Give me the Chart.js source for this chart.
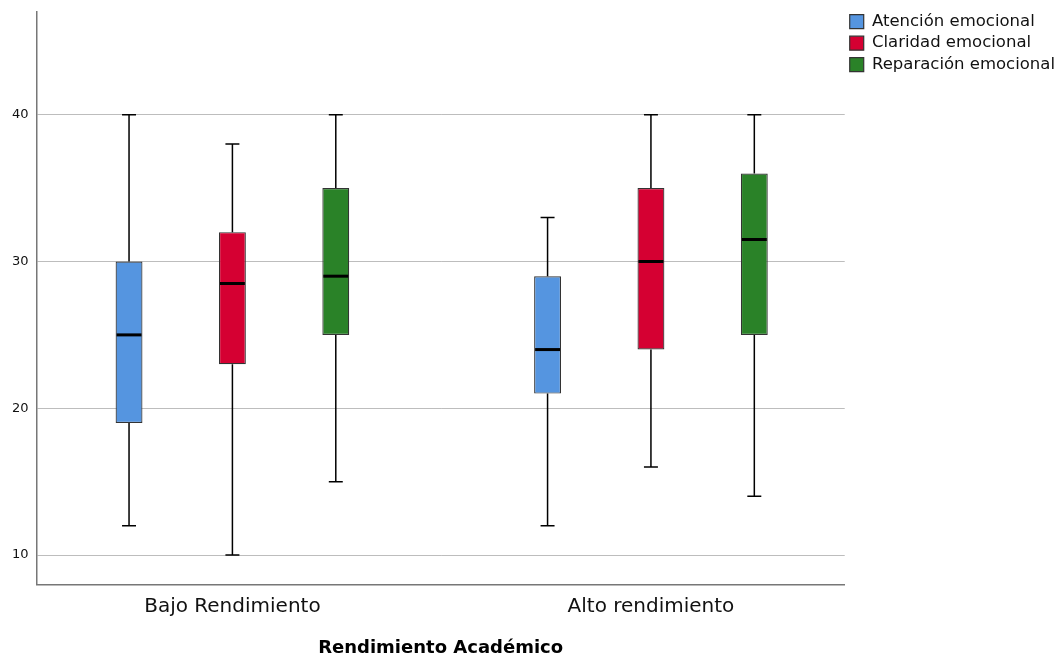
<!DOCTYPE html>
<html>
<head>
<meta charset="utf-8">
<script src="https://cdn.jsdelivr.net/npm/chart.js@4.4.1/dist/chart.umd.min.js"></script>
<style>
  html, body { margin: 0; padding: 0; background: #fff; }
  #wrap { width: 1057px; height: 657px; position: relative; }
</style>
</head>
<body>
<div id="wrap"><canvas id="chart"></canvas></div>
<script>
// categories and series (box plot five-number summaries)
const categories = ['Bajo Rendimiento', 'Alto rendimiento'];
const seriesNames = ['Atención emocional', 'Claridad emocional', 'Reparación emocional'];
const seriesColors = ['#5595e0', '#d50032', '#2a8228'];

// [Bajo, Alto] per series
const atencionMin = [12, 12];
const atencionQ1 = [19, 21];
const atencionMedian = [25, 24];
const atencionQ3 = [30, 29];
const atencionMax = [40, 33];

const claridadMin = [10, 16];
const claridadQ1 = [23, 24];
const claridadMedian = [28.5, 30];
const claridadQ3 = [32, 35];
const claridadMax = [38, 40];

const reparacionMin = [15, 14];
const reparacionQ1 = [25, 25];
const reparacionMedian = [29, 31.5];
const reparacionQ3 = [35, 36];
const reparacionMax = [40, 40];

const yTicks = [10, 20, 30, 40];

const stats = [
    { min: atencionMin, q1: atencionQ1, med: atencionMedian, q3: atencionQ3, max: atencionMax },
    { min: claridadMin, q1: claridadQ1, med: claridadMedian, q3: claridadQ3, max: claridadMax },
    { min: reparacionMin, q1: reparacionQ1, med: reparacionMedian, q3: reparacionQ3, max: reparacionMax }
];

const datasets = stats.map((s, i) => ({
    label: seriesNames[i],
    data: s.q1.map((q1, j) => ({ x: j, y: [q1, s.q3[j]] })),
    backgroundColor: seriesColors[i],
    borderColor: '#333',
    borderWidth: 1.2,
    borderSkipped: false,
    categoryPercentage: 0.741,
    barPercentage: 0.26
}));

// draws whiskers, caps and medians from the data via the scales
const boxPlugin = {
    id: 'boxWhiskers',
    afterDatasetsDraw(chart) {
        const ctx = chart.ctx;
        const y = chart.scales.y;
        chart.data.datasets.forEach((ds, i) => {
            const meta = chart.getDatasetMeta(i);
            const s = stats[i];
            meta.data.forEach((bar, j) => {
                const x = bar.x;
                const w = bar.width;
                const cap = w * 0.52;
                ctx.save();
                ctx.strokeStyle = '#000';
                ctx.lineWidth = 1.5;
                ctx.beginPath();
                ctx.moveTo(x, y.getPixelForValue(s.q3[j]));
                ctx.lineTo(x, y.getPixelForValue(s.max[j]));
                ctx.moveTo(x, y.getPixelForValue(s.q1[j]));
                ctx.lineTo(x, y.getPixelForValue(s.min[j]));
                ctx.moveTo(x - cap / 2, y.getPixelForValue(s.max[j]));
                ctx.lineTo(x + cap / 2, y.getPixelForValue(s.max[j]));
                ctx.moveTo(x - cap / 2, y.getPixelForValue(s.min[j]));
                ctx.lineTo(x + cap / 2, y.getPixelForValue(s.min[j]));
                ctx.stroke();
                ctx.lineWidth = 3;
                ctx.beginPath();
                const my = y.getPixelForValue(s.med[j]);
                ctx.moveTo(x - w / 2 + 1, my);
                ctx.lineTo(x + w / 2 - 1, my);
                ctx.stroke();
                ctx.restore();
            });
        });
    }
};

new Chart(document.getElementById('chart'), {
    type: 'bar',
    data: { datasets: datasets },
    plugins: [boxPlugin],
    options: {
        responsive: true,
        maintainAspectRatio: false,
        animation: false,
        layout: { padding: { top: 1, right: -8, left: 4, bottom: -2 } },
        plugins: {
            tooltip: { enabled: false },
            legend: {
                position: 'right',
                align: 'start',
                title: { display: true, text: ' ', font: { size: 2 }, padding: { top: 5, bottom: 0 } },
                labels: {
                    boxWidth: 14,
                    boxHeight: 14,
                    padding: 5,
                    color: '#111',
                    font: { family: 'DejaVu Sans', size: 16.5 }
                }
            }
        },
        scales: {
            x: {
                type: 'linear',
                offset: false,
                min: -0.468,
                max: 1.463,
                afterBuildTicks(scale) {
                    scale.ticks = categories.map((c, i) => ({ value: i }));
                },
                grid: { display: false, drawTicks: false, offset: false },
                border: { display: true, color: '#777', width: 1.5 },
                ticks: {
                    color: '#111',
                    font: { family: 'DejaVu Sans', size: 20 },
                    padding: 10,
                    callback: v => categories[v]
                },
                title: {
                    display: true,
                    text: 'Rendimiento Académico',
                    color: '#000',
                    font: { family: 'DejaVu Sans', size: 18, weight: 'bold' },
                    padding: { top: 9, bottom: 0 }
                }
            },
            y: {
                min: 8,
                max: 47,
                afterBuildTicks(scale) {
                    scale.ticks = yTicks.map(v => ({ value: v }));
                },
                afterFit(scale) {
                    scale.paddingTop = 12;
                    scale.paddingBottom = 0;
                },
                grid: { color: '#bdbdbd', lineWidth: 1, drawTicks: false },
                border: { display: true, color: '#777', width: 1.5 },
                ticks: { color: '#111', font: { family: 'DejaVu Sans', size: 13 }, padding: 8 }
            }
        }
    }
});
</script>
</body>
</html>
